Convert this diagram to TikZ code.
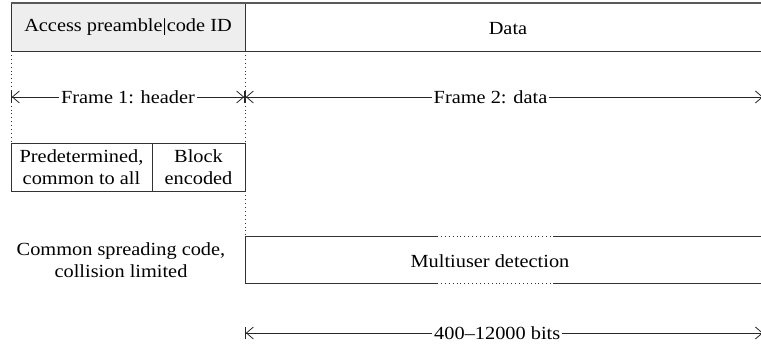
\documentclass[tikz,border=0pt]{standalone}
\usepackage{fontspec}
\setmainfont[FakeStretch=1.1]{Liberation Serif}
\usetikzlibrary{arrows.meta}
\begin{document}
\begin{tikzpicture}[x=1pt,y=-1pt, font=\fontsize{18.5}{22}\selectfont,
  box/.style={draw=black!80, line width=1pt, inner sep=0pt, outer sep=0pt, align=center},
  edge/.style={draw=black!80, line width=1pt},
  topline/.style={draw=black!65, line width=2pt},
  dots/.style={draw=black!80, line width=0.9pt, dash pattern=on 0.9pt off 3pt},
  dim/.style={line width=0.8pt, draw=black!85},
  lbl/.style={fill=white, inner xsep=2pt, inner ysep=0pt}]
\useasboundingbox (0,0) rectangle (761,343);
% header row
\node[box, fill=gray!13, minimum width=234, minimum height=48, anchor=north west] (ap) at (11,3) {Access preamble|code ID};
\coordinate (tr) at (761,3);
\coordinate (br) at (761,51);
\draw[topline] (ap.north west) -- (tr);
\draw[edge] (ap.south east) -- (br);
\node (data) at (508,29) {Data};
% dimension row 1
\coordinate (a1) at (11,97);
\coordinate (a2) at (245,97);
\coordinate (a3) at (763,97);
\draw[dim, {Bar[width=12pt]Straight Barb[length=7pt,width=12pt]}-{Straight Barb[length=7pt,width=12pt]Bar[width=12pt]}] (a1) -- (a2) node[lbl, pos=0.5] (f1) {Frame 1: header};
\draw[dim, {Bar[width=12pt]Straight Barb[length=7pt,width=12pt]}-{Straight Barb[length=7pt,width=12pt]}] (a2) -- (a3) node[lbl, pos=0.474] (f2) {Frame 2: data};
% lower header boxes
\node[box, minimum width=141, minimum height=48, anchor=north west] (pc) at (11,143) {Predetermined,\\common to all};
\node[box, minimum width=93, minimum height=48, anchor=north west] (be) at (pc.north east) {Block\\encoded};
% dotted guides
\draw[dots] (ap.south west) -- (pc.north west);
\coordinate (mtl) at (245,236);
\coordinate (mbl) at (245,283);
\draw[dots] (ap.south east) -- (mtl);
% spreading code label
\node[align=center] (cs) at (121,260) {Common spreading code,\\collision limited};
% multiuser region
\coordinate (mt1) at (437,236); \coordinate (mt2) at (553,236); \coordinate (mtr) at (761,236);
\coordinate (mb1) at (437,283); \coordinate (mb2) at (553,283); \coordinate (mbr) at (761,283);
\draw[edge] (mt1) -- (mtl) -- (mbl) -- (mb1);
\draw[edge] (mt2) -- (mtr);
\draw[edge] (mb2) -- (mbr);
\draw[dots] (mt1) -- (mt2);
\draw[dots] (mb1) -- (mb2);
\node (mu) at (490,261) {Multiuser detection};
% bits dimension
\coordinate (b1) at (245,333);
\coordinate (b2) at (763,333);
\draw[dim, {Bar[width=12pt]Straight Barb[length=7pt,width=12pt]}-{Straight Barb[length=7pt,width=12pt]}] (b1) -- (b2) node[lbl, pos=0.487] (bits) {400–12000 bits};
\end{tikzpicture}
\end{document}
